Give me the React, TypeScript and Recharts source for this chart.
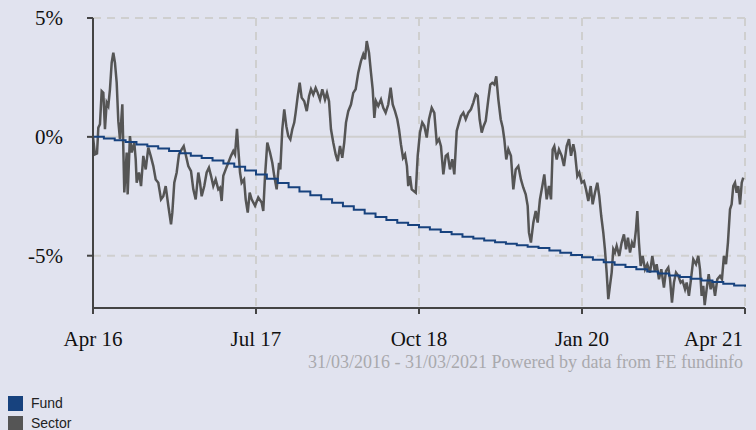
import React from 'react';
import {
  LineChart,
  Line,
  XAxis,
  YAxis,
  CartesianGrid,
  ReferenceLine,
} from 'recharts';

// x values are months since 31/03/2016
const xTicks = [0, 15, 30, 45, 60];
const xTickLabels = ['Apr 16', 'Jul 17', 'Oct 18', 'Jan 20', 'Apr 21'];
const yTicks = [-5, 0, 5];

// Fund: monthly, cumulative % (stepped)
const fundValues = [
  0, -0.07, -0.14, -0.22, -0.32, -0.4, -0.49, -0.59, -0.69, -0.79, -0.89, -1.0, -1.12, -1.26, -1.42,
  -1.58, -1.76, -1.94, -2.12, -2.3, -2.46, -2.62, -2.77, -2.92, -3.07, -3.22, -3.37, -3.5, -3.61, -3.71,
  -3.8, -3.9, -4.0, -4.1, -4.2, -4.28, -4.36, -4.43, -4.5, -4.56, -4.62, -4.68, -4.78, -4.88, -4.97,
  -5.06, -5.17, -5.28, -5.38, -5.48, -5.57, -5.66, -5.75, -5.83, -5.9, -5.97, -6.04, -6.11, -6.18, -6.25,
  -6.31,
];

// Sector: observation month and cumulative %
const sectorMonths = [
  0, 0.18, 0.37, 0.49, 0.64, 0.8, 0.95, 1.1, 1.26, 1.41, 1.56, 1.72, 1.87, 2.02, 2.18, 2.33, 2.48, 2.7,
  2.88, 3.1, 3.19, 3.4, 3.56, 3.8, 3.93, 4.02, 4.23, 4.42, 4.63, 4.85, 5.09, 5.31, 5.55, 5.77, 6.01,
  6.26, 6.47, 6.69, 6.93, 7.18, 7.3, 7.48, 7.7, 7.91, 8.16, 8.35, 8.53, 8.77, 9.02, 9.23, 9.45, 9.69,
  9.85, 10.0, 10.24, 10.46, 10.67, 10.86, 11.07, 11.29, 11.53, 11.69, 11.84, 11.99, 12.21, 12.45, 12.7,
  12.91, 13.07, 13.25, 13.37, 13.53, 13.68, 13.9, 14.05, 14.24, 14.42, 14.6, 14.91, 15.21, 15.52, 15.67,
  15.83, 16.04, 16.29, 16.5, 16.68, 16.9, 17.12, 17.24, 17.42, 17.6, 17.79, 17.97, 18.16, 18.34, 18.52,
  18.65, 18.84, 19.02, 19.2, 19.44, 19.67, 19.88, 20.06, 20.27, 20.49, 20.68, 20.89, 21.1, 21.35, 21.53,
  21.72, 21.9, 22.11, 22.33, 22.52, 22.73, 22.94, 23.12, 23.28, 23.49, 23.74, 23.95, 24.17, 24.41, 24.66,
  24.87, 25.03, 25.19, 25.4, 25.58, 25.74, 25.89, 26.04, 26.25, 26.5, 26.71, 26.93, 27.17, 27.39, 27.58,
  27.79, 28.0, 28.16, 28.34, 28.53, 28.71, 28.89, 29.01, 29.17, 29.33, 29.7, 29.88, 30.09, 30.3, 30.49,
  30.71, 30.92, 31.17, 31.41, 31.63, 31.84, 32.02, 32.24, 32.46, 32.64, 32.85, 33.06, 33.25, 33.47,
  33.68, 33.86, 34.08, 34.3, 34.54, 34.78, 35.0, 35.22, 35.4, 35.58, 35.77, 35.95, 36.14, 36.38, 36.56,
  36.74, 36.93, 37.11, 37.3, 37.52, 37.7, 37.85, 38.03, 38.22, 38.46, 38.68, 38.9, 39.14, 39.38, 39.6,
  39.82, 40.0, 40.12, 40.3, 40.52, 40.74, 40.92, 41.13, 41.35, 41.53, 41.75, 41.96, 42.15, 42.3, 42.45,
  42.67, 42.88, 43.13, 43.34, 43.59, 43.8, 43.99, 44.2, 44.35, 44.57, 44.75, 44.97, 45.18, 45.37, 45.58,
  45.8, 45.98, 46.19, 46.41, 46.59, 46.77, 46.96, 47.11, 47.27, 47.42, 47.57, 47.73, 47.88, 48.03, 48.19,
  48.43, 48.65, 48.86, 49.05, 49.23, 49.42, 49.6, 49.78, 49.97, 50.09, 50.24, 50.4, 50.58, 50.8, 51.01,
  51.26, 51.47, 51.69, 51.87, 52.08, 52.3, 52.54, 52.73, 52.94, 53.1, 53.28, 53.46, 53.65, 53.86, 54.08,
  54.26, 54.48, 54.63, 54.84, 55.03, 55.24, 55.49, 55.7, 55.86, 56.01, 56.16, 56.29, 56.47, 56.66, 56.84,
  57.03, 57.24, 57.45, 57.7, 57.88, 58.06, 58.25, 58.43, 58.62, 58.77, 58.92, 59.08, 59.23, 59.38, 59.54,
  59.7, 59.84,
];
const sectorValues = [
  0, -0.74, -0.7, 0.39, 0.53, 1.92, 1.85, 0.32, 1.44, 1.3, 2.0, 3.12, 3.54, 3.12, 2.28, 0.66, -0.1, 1.37,
  -2.34, -0.66, -2.42, 0.03, -0.66, -0.24, -0.95, -1.93, -1.5, -2.07, -0.8, -1.37, -0.45, -0.8, -1.23,
  -1.79, -1.93, -2.63, -2.5, -2.07, -2.9, -3.68, -3.19, -1.93, -1.5, -0.74, -0.53, -0.39, -0.74, -1.23,
  -1.44, -2.21, -2.63, -1.5, -1.93, -2.5, -2.07, -1.5, -1.3, -1.64, -2.07, -1.79, -2.21, -2.14, -2.7,
  -1.64, -1.37, -1.09, -0.8, -0.6, -0.74, 0.34, -0.5, -1.5, -1.93, -1.79, -2.63, -3.19, -2.35, -2.63,
  -2.9, -2.55, -2.76, -3.12, -1.65, -0.24, -0.66, -1.09, -1.65, -2.21, -1.09, -1.37, 0.32, 1.16, 0.45,
  0.03, -0.11, 0.32, 0.6, 1.02, 1.71, 2.28, 1.65, 1.5, 1.08, 1.71, 2.0, 1.78, 2.06, 1.85, 1.57, 2.0, 1.57,
  1.85, 1.5, 0.32, -0.24, -0.74, -1.02, -0.38, -0.88, -0.24, 0.6, 1.08, 1.36, 1.85, 2.0, 2.7, 3.19, 3.47,
  3.26, 4.03, 3.54, 2.7, 2.0, 0.8, 1.5, 1.3, 1.57, 1.22, 1.02, 1.36, 2.07, 1.36, 1.08, 0.74, 0.32, -0.32,
  -0.88, -0.74, -1.23, -2.07, -1.65, -2.21, -2.35, -0.8, 0.18, 0.6, 0.46, -0.03, 0.74, 1.22, 1.01, -0.24,
  -0.1, -0.39, -1.58, -0.8, -0.73, -1.37, -0.94, -1.58, 0.25, 0.6, 0.88, 1.02, 0.74, 1.02, 1.16, 1.44,
  1.79, 1.72, 0.74, 0.18, 0.46, 0.67, 1.58, 2.2, 2.27, 2.2, 2.55, 1.58, 0.74, 0.39, -0.1, -0.95, -0.52,
  -0.8, -2.21, -1.37, -1.23, -1.79, -2.14, -2.42, -2.9, -4.03, -4.45, -3.61, -3.12, -3.61, -2.63, -2.07,
  -1.58, -2.63, -2.07, -2.63, -0.53, -0.39, -0.95, -0.53, -0.8, -1.23, -0.39, -0.1, -0.8, -0.31, -0.66,
  -1.65, -1.5, -1.93, -1.86, -2.21, -2.7, -2.07, -2.84, -2.35, -1.93, -2.49, -3.33, -4.03, -4.73, -5.71,
  -6.83, -6.27, -5.71, -4.73, -4.87, -4.59, -5.01, -4.45, -4.1, -4.73, -4.24, -4.87, -4.45, -4.66, -3.89,
  -3.12, -4.45, -5.43, -5.01, -5.57, -5.36, -5.71, -5.01, -5.64, -5.36, -5.99, -5.57, -6.34, -5.64, -5.5,
  -5.99, -6.97, -6.13, -5.71, -5.85, -6.13, -6.06, -6.41, -6.13, -6.69, -5.99, -5.15, -5.36, -5.01, -5.57,
  -6.69, -6.27, -7.08, -6.41, -5.78, -6.41, -6.06, -6.69, -5.99, -5.85, -5.99, -5.01, -5.36, -4.45, -3.05,
  -2.84, -2.07, -1.93, -2.35, -2.07, -2.84, -1.93, -1.72,
];

const fundData = fundValues.map((v, i) => ({ m: i, fund: v }));
const sectorData = sectorMonths.map((m, i) => ({ m, sector: sectorValues[i] }));

const FUND_COLOR = '#17427e';
const SECTOR_COLOR = '#555555';
const BG = '#e1e3ef';
const serif = '"Liberation Serif", "Times New Roman", serif';

// last label is pulled inside the chart so it isn't clipped
const DateTick = ({ x, y, payload }: any) => {
  const idx = xTicks.indexOf(payload.value);
  const isLast = idx === xTicks.length - 1;
  return (
    <text
      x={isLast ? x - 2 : x}
      y={y}
      dy="0.71em"
      textAnchor={isLast ? 'end' : 'middle'}
      fill="#111"
      fontSize={21}
      fontFamily={serif}
    >
      {xTickLabels[idx]}
    </text>
  );
};

export default function App() {
  return (
    <div
      style={{
        position: 'absolute',
        left: 0,
        top: 0,
        width: 756,
        height: 430,
        background: BG,
        overflow: 'hidden',
      }}
    >
      <LineChart
        width={756}
        height={360}
        margin={{ top: 18, right: 11, bottom: 12, left: 0 }}
        style={{ fontFamily: serif }}
      >
        <CartesianGrid
          stroke="#cfcfcf"
          strokeWidth={2}
          strokeDasharray="8 6"
          horizontalValues={[-5, 5]}
          verticalValues={[15, 30, 45, 60]}
        />
        <ReferenceLine y={0} stroke="#cfcfcf" strokeWidth={2} />
        <XAxis
          dataKey="m"
          type="number"
          domain={[0, 60]}
          ticks={xTicks}
          allowDuplicatedCategory={false}
          height={40}
          tickSize={6}
          tickMargin={17}
          axisLine={{ stroke: '#444', strokeWidth: 2 }}
          tickLine={{ stroke: '#444', strokeWidth: 2 }}
          tick={<DateTick />}
        />
        <YAxis
          type="number"
          domain={[-7.2, 5]}
          ticks={yTicks}
          width={93}
          tickSize={6}
          tickMargin={24}
          tickFormatter={(v) => `${v}%`}
          axisLine={{ stroke: '#444', strokeWidth: 2 }}
          tickLine={{ stroke: '#444', strokeWidth: 2 }}
          tick={{ fill: '#111', fontSize: 21, fontFamily: serif }}
        />
        <Line
          data={sectorData}
          dataKey="sector"
          type="linear"
          stroke={SECTOR_COLOR}
          strokeWidth={2.5}
          dot={false}
          isAnimationActive={false}
        />
        <Line
          data={fundData}
          dataKey="fund"
          type="stepAfter"
          stroke={FUND_COLOR}
          strokeWidth={2}
          dot={false}
          isAnimationActive={false}
        />
      </LineChart>

      <div
        style={{
          position: 'absolute',
          right: 13,
          top: 352,
          fontFamily: serif,
          fontSize: 18,
          color: '#a9a9ad',
          whiteSpace: 'nowrap',
        }}
      >
        31/03/2016 - 31/03/2021 Powered by data from FE fundinfo
      </div>

      <div
        style={{
          position: 'absolute',
          left: 8,
          top: 393,
          fontFamily: '"Liberation Sans", Arial, sans-serif',
          fontSize: 14,
          lineHeight: '16px',
          color: '#222',
        }}
      >
        {[
          { name: 'Fund', color: FUND_COLOR },
          { name: 'Sector', color: SECTOR_COLOR },
        ].map((item) => (
          <div key={item.name} style={{ display: 'flex', alignItems: 'center', height: 20 }}>
            <span
              style={{
                display: 'inline-block',
                width: 15,
                height: 15,
                background: item.color,
                marginRight: 8,
              }}
            />
            {item.name}
          </div>
        ))}
      </div>
    </div>
  );
}
